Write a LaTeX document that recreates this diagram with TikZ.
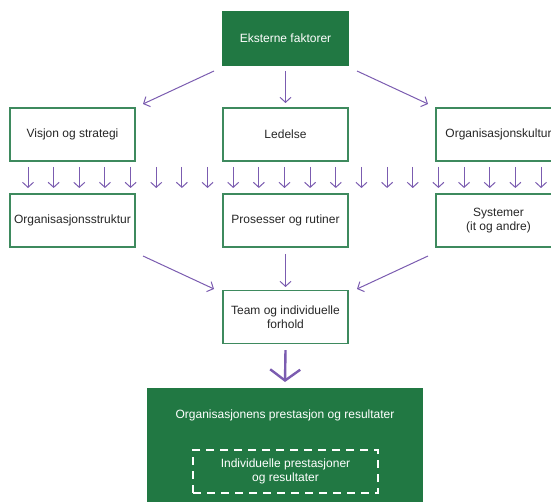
\documentclass[tikz,border=0pt]{standalone}
\usepackage{fontspec}
\setmainfont{Liberation Sans}
\usetikzlibrary{arrows.meta}
\definecolor{dgreen}{HTML}{217843}
\definecolor{bgreen}{HTML}{3E8A5E}
\definecolor{purp}{HTML}{7B5CB0}
\tikzset{
  gbox/.style={draw=bgreen, line width=1.1pt, minimum width=125pt, minimum height=53pt,
    align=center, inner sep=0pt, font=\fontsize{12}{14}\selectfont, text=black!85},
  gfill/.style={gbox, fill=dgreen, draw=dgreen, text=white},
  arr/.style={draw=purp, line width=1pt, -{Straight Barb[length=5pt,width=11pt,line width=1pt]}},
  bigarr/.style={draw=purp, line width=2.4pt, -{Straight Barb[length=11pt,width=30pt,line width=2.4pt]}},
}
\begin{document}
\begin{tikzpicture}[x=1pt,y=-1pt]
\useasboundingbox (0,0) rectangle (551,502);
% top
\node[gfill] (ext) at (285.5,38.5) {Eksterne faktorer};
% row 1
\node[gbox] (vis) at (72.5,134.5) {Visjon og strategi};
\node[gbox] (led) at (285.5,134.5) {Ledelse};
\node[gbox] (kul) at (498.5,134.5) {Organisasjonskultur};
% row 2
\node[gbox] (str) at (72.5,220.5) {Organisasjonsstruktur};
\node[gbox] (pro) at (285.5,220.5) {Prosesser og rutiner};
\node[gbox] (sys) at (498.5,220.5) {Systemer\\(it og andre)};
% team
\node[gbox] (team) at (285.5,317) {Team og individuelle\\forhold};
% bottom
\node[fill=dgreen, minimum width=276pt, minimum height=134pt, inner sep=0pt] (res) at (285,455) {};
\node[text=white, font=\fontsize{12}{14}\selectfont] (restxt) at (285,415) {Organisasjonens prestasjon og resultater};
\node[draw=white, dashed, dash pattern=on 8pt off 6pt, line width=1.1pt, minimum width=185pt, minimum height=43pt,
  align=center, inner sep=0pt, text=white, font=\fontsize{12}{13.5}\selectfont] (ind) at (285.5,471.5)
  {Individuelle prestasjoner\\og resultater};
% top arrows
\coordinate (t1s) at (214,71); \coordinate (t1e) at (143,104);
\coordinate (t2s) at (285.5,71); \coordinate (t2e) at (285.5,103);
\coordinate (t3s) at (357,71); \coordinate (t3e) at (428,104);
\draw[arr] (t1s) -- (t1e);
\draw[arr] (t2s) -- (t2e);
\draw[arr] (t3s) -- (t3e);
% row arrows
\foreach \i in {0,...,20}{
  \coordinate (r\i s) at (28+25.65*\i,167);
  \coordinate (r\i e) at (28+25.65*\i,188);
  \draw[arr] (r\i s) -- (r\i e);
}
% lower arrows
\coordinate (b1s) at (143,256); \coordinate (b1e) at (214,289);
\coordinate (b2s) at (285.5,254); \coordinate (b2e) at (285.5,287);
\coordinate (b3s) at (428,256); \coordinate (b3e) at (357,289);
\draw[arr] (b1s) -- (b1e);
\draw[arr] (b2s) -- (b2e);
\draw[arr] (b3s) -- (b3e);
% big arrow
\draw[bigarr] (team.south) ++(0,6) coordinate (bs) -- (res.north |- 0,382) coordinate (be);
\end{tikzpicture}
\end{document}
